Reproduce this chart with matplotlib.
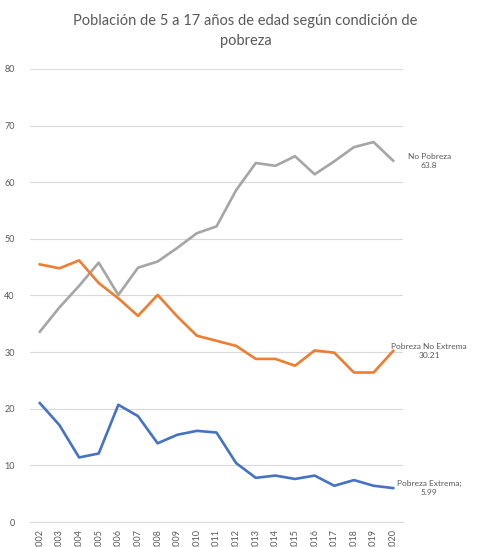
import numpy as np
import matplotlib.pyplot as plt

plt.rcParams['font.family'] = ['Lato', 'DejaVu Sans']

years = [str(y) for y in range(2002, 2021)]
no_pobreza = [33.6, 37.9, 41.7, 45.8, 40.1, 44.9, 46.0, 48.4, 51.0, 52.2,
              58.6, 63.4, 62.9, 64.6, 61.4, 63.7, 66.2, 67.1, 63.8]
no_extrema = [45.5, 44.8, 46.2, 42.2, 39.5, 36.4, 40.1, 36.3, 32.9, 32.0,
              31.1, 28.8, 28.8, 27.6, 30.3, 29.9, 26.4, 26.4, 30.21]
extrema = [21.0, 17.1, 11.4, 12.1, 20.7, 18.7, 13.9, 15.4, 16.1, 15.8,
           10.4, 7.8, 8.2, 7.6, 8.2, 6.4, 7.4, 6.4, 5.99]

series = [
    (no_pobreza, '#A5A5A5', 'No Pobreza\n63.8'),
    (no_extrema, '#ED7D31', 'Pobreza No Extrema\n30.21'),
    (extrema, '#4472C4', 'Pobreza Extrema;\n5.99'),
]

fig = plt.figure(figsize=(4.86, 5.47), dpi=100)
ax = fig.add_axes([30/486, 25/547, 373/486, 453/547])

x = np.arange(len(years))
for vals, col, lab in series:
    ax.plot(x, vals, color=col, lw=1.9, solid_joinstyle='round')
    ax.annotate(lab, xy=(x[-1], vals[-1]), xytext=(36, 0), textcoords='offset pixels',
                ha='center', va='center', fontsize=6, color='#595959',
                annotation_clip=False, linespacing=1.3)

ax.set_xlim(-0.5, len(years) - 0.5)
ax.set_ylim(0, 80)
ax.set_yticks(range(0, 81, 10))
ax.set_xticks(x)
ax.set_xticklabels(years, rotation=90, va='top')
ax.yaxis.grid(True, color='#D9D9D9', lw=0.8)
ax.set_axisbelow(True)
for s in ['top', 'right', 'left']:
    ax.spines[s].set_visible(False)
ax.spines['bottom'].set_color('#D9D9D9')
ax.tick_params(length=0, labelsize=6.5, labelcolor='#595959', pad=5)
ax.tick_params(axis='y', pad=11)

fig.text(0.505, 0.975, 'Población de 5 a 17 años de edad según condición de\npobreza',
         ha='center', va='top', fontsize=10.5, color='#595959', linespacing=1.55)

fig.savefig('out.png', dpi=100)
